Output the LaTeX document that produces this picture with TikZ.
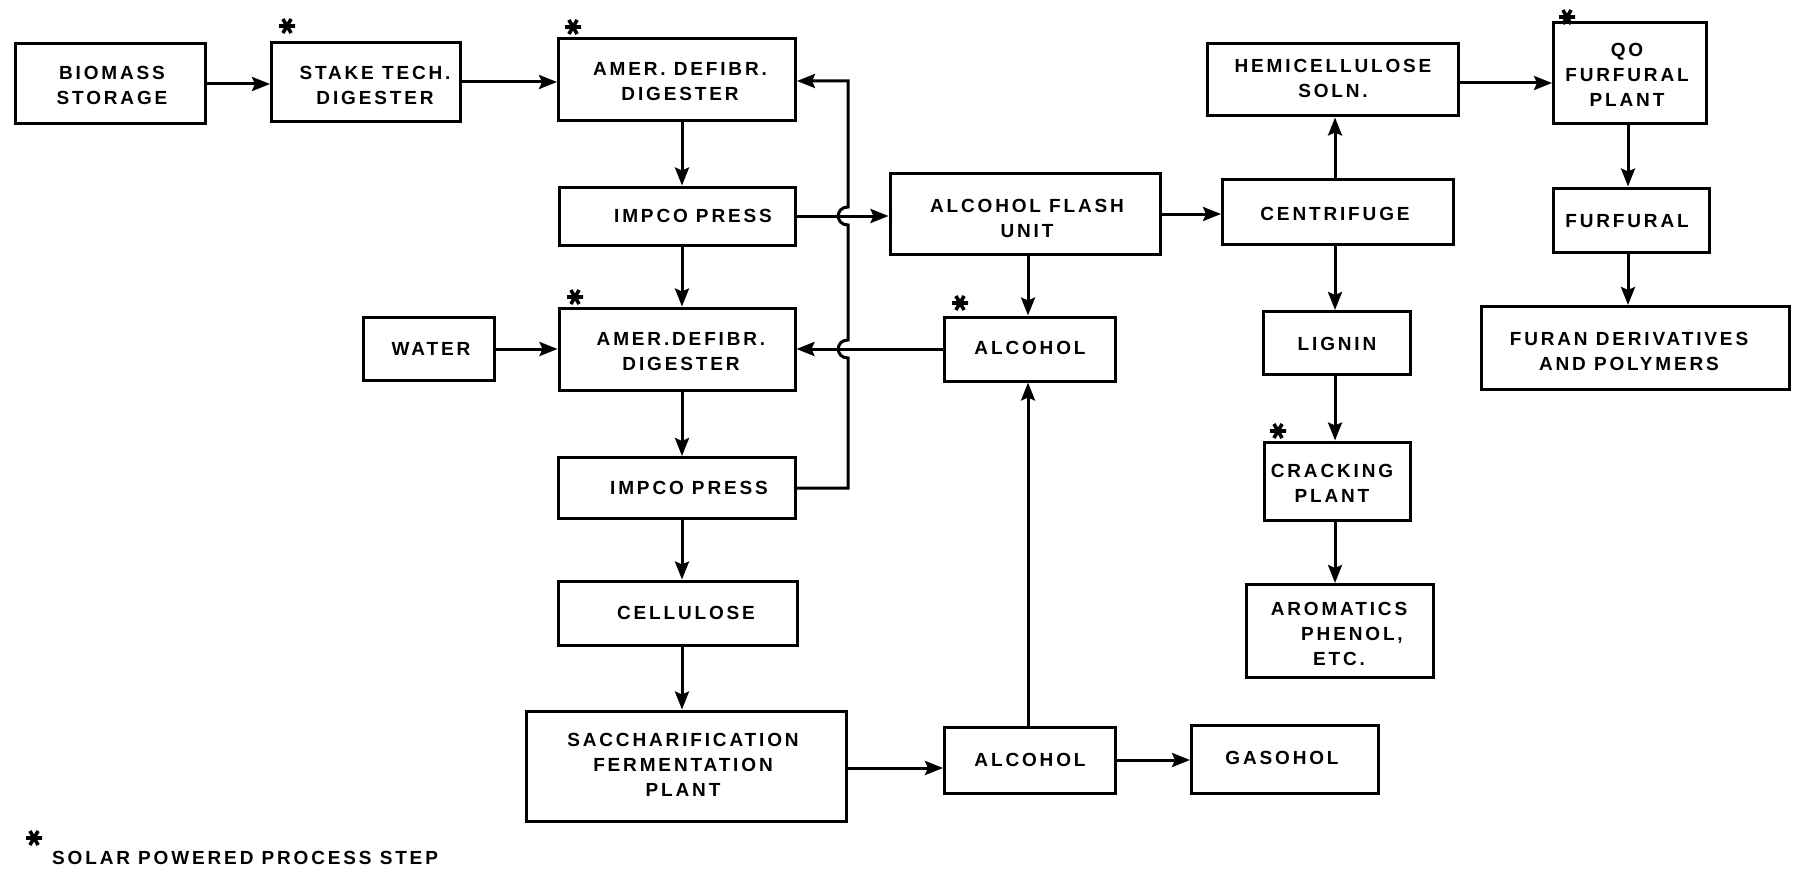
\documentclass[tikz,border=0pt]{standalone}
\usepackage{fontspec}
\setmainfont{Liberation Sans}[LetterSpace=15]
\usetikzlibrary{arrows.meta,calc}
\tikzset{
  box/.style={draw, line width=3pt, rectangle, inner sep=0pt},
  lbl/.style={font=\bfseries\fontsize{19}{25}\selectfont, align=center, inner sep=0pt},
  arr/.style={line width=3pt, -{Stealth[length=18pt,width=14pt,inset=3pt]}},
  solar/.pic={\draw[line width=3.6pt] (-8,0)--(8,0) (-4.1,-7)--(4.1,7) (-4.1,7)--(4.1,-7);}
}
\begin{document}
\begin{tikzpicture}[x=1pt,y=-1pt]
\useasboundingbox (0,0) rectangle (1797,872);
% boxes
\node[box, minimum width=190, minimum height=80] (bio) at (110,84) {};
\node[box, minimum width=189, minimum height=79] (stake) at (366,82) {};
\node[box, minimum width=237, minimum height=82] (amer1) at (677,80) {};
\node[box, minimum width=236, minimum height=58] (impco1) at (677,216) {};
\node[box, minimum width=270, minimum height=80] (flash) at (1025,214) {};
\node[box, minimum width=231, minimum height=64] (centr) at (1338,212) {};
\node[box, minimum width=251, minimum height=72] (hemi) at (1333,80) {};
\node[box, minimum width=153, minimum height=101] (qo) at (1630,73) {};
\node[box, minimum width=156, minimum height=64] (furf) at (1631,220) {};
\node[box, minimum width=308, minimum height=83] (furan) at (1635,348) {};
\node[box, minimum width=131, minimum height=63] (water) at (429,349) {};
\node[box, minimum width=236, minimum height=82] (amer2) at (677,349) {};
\node[box, minimum width=171, minimum height=64] (alc1) at (1030,349) {};
\node[box, minimum width=147, minimum height=63] (lignin) at (1337,343) {};
\node[box, minimum width=146, minimum height=78] (crack) at (1337,481) {};
\node[box, minimum width=187, minimum height=93] (arom) at (1340,631) {};
\node[box, minimum width=237, minimum height=61] (impco2) at (677,488) {};
\node[box, minimum width=239, minimum height=64] (cell) at (678,613) {};
\node[box, minimum width=320, minimum height=110] (sacch) at (686,766) {};
\node[box, minimum width=171, minimum height=66] (alc2) at (1030,760) {};
\node[box, minimum width=187, minimum height=68] (gas) at (1285,759) {};
% labels
\node[lbl] (tbio) at (112,85) {BIOMASS\\STORAGE};
\node[lbl] (tstake) at (375,85) {STAKE TECH.\\DIGESTER};
\node[lbl] (tamer1) at (680,82) {AMER. DEFIBR.\\DIGESTER};
\node[lbl] (timpco1) at (693,216) {IMPCO PRESS};
\node[lbl] (tflash) at (1027,218) {ALCOHOL FLASH\\UNIT};
\node[lbl] (tcentr) at (1335,214) {CENTRIFUGE};
\node[lbl] (themi) at (1333,78) {HEMICELLULOSE\\SOLN.};
\node[lbl] (tqo) at (1627,75) {QO\\FURFURAL\\PLANT};
\node[lbl] (tfurf) at (1627,221) {FURFURAL};
\node[lbl] (tfuran) at (1629,351) {FURAN DERIVATIVES\\AND POLYMERS};
\node[lbl] (twater) at (431,349) {WATER};
\node[lbl] (tamer2) at (681,352) {AMER.DEFIBR.\\DIGESTER};
\node[lbl] (talc1) at (1030,348) {ALCOHOL};
\node[lbl] (tlignin) at (1337,344) {LIGNIN};
\node[lbl] (tcrack) at (1332,483) {CRACKING\\PLANT};
\node[lbl] (tarom) at (1339,634) {AROMATICS\\\hspace*{26pt}PHENOL,\\ETC.};
\node[lbl] (timpco2) at (689,488) {IMPCO PRESS};
\node[lbl] (tcell) at (686,613) {CELLULOSE};
\node[lbl] (tsacch) at (683,765) {SACCHARIFICATION\\FERMENTATION\\PLANT};
\node[lbl] (talc2) at (1030,760) {ALCOHOL};
\node[lbl] (tgas) at (1282,758) {GASOHOL};
\node[lbl, anchor=west] (tleg) at (52,858) {SOLAR POWERED PROCESS STEP};
% solar stars
\pic at (287,26) {solar};
\pic at (573,27) {solar};
\pic at (575,297) {solar};
\pic at (960,303) {solar};
\pic at (1278,431) {solar};
\pic at (1567,17) {solar};
\pic at (34,838) {solar};
% helper coordinates
\coordinate (vx) at (682,0);
\coordinate (rx) at (848,0);
\coordinate (ax) at (1028,0);
\coordinate (cx) at (1335,0);
\coordinate (fx) at (1628,0);
% main column
\draw[arr] (bio.east) -- (bio.east -| stake.west);
\draw[arr] (stake.east) -- (stake.east -| amer1.west);
\draw[arr] (amer1.south -| vx) -- (impco1.north -| vx);
\draw[arr] (impco1.south -| vx) -- (amer2.north -| vx);
\draw[arr] (amer2.south -| vx) -- (impco2.north -| vx);
\draw[arr] (impco2.south -| vx) -- (cell.north -| vx);
\draw[arr] (cell.south -| vx) -- (sacch.north -| vx);
\draw[arr] (water.east) -- (water.east -| amer2.west);
% return line with hops
\coordinate (r1) at (848,81);
\draw[arr] (impco2.east) -- (impco2.east -| rx) -- (848,358)
  .. controls (835,358) and (835,340) .. (848,340) -- (848,225)
  .. controls (835,225) and (835,207) .. (848,207) -- (r1) -- (r1 -| amer1.east);
\draw[arr] (impco1.east) -- (impco1.east -| flash.west);
\draw[arr] (alc1.west) -- (alc1.west -| amer2.east);
% middle
\draw[arr] (flash.south -| ax) -- (alc1.north -| ax);
\draw[arr] (alc2.north -| ax) -- (alc1.south -| ax);
\draw[arr] ([yshift=-2]sacch.east) -- ([yshift=-2]sacch.east -| alc2.west);
\draw[arr] (alc2.east) -- (alc2.east -| gas.west);
\draw[arr] (flash.east) -- (flash.east -| centr.west);
% right
\draw[arr] (centr.north -| cx) -- (hemi.south -| cx);
\draw[arr] (centr.south -| cx) -- (lignin.north -| cx);
\draw[arr] (lignin.south -| cx) -- (crack.north -| cx);
\draw[arr] (crack.south -| cx) -- (arom.north -| cx);
\draw[arr] ([yshift=-3]hemi.east) -- ([yshift=-3]hemi.east -| qo.west);
\draw[arr] (qo.south -| fx) -- (furf.north -| fx);
\draw[arr] (furf.south -| fx) -- (furan.north -| fx);
\end{tikzpicture}
\end{document}
